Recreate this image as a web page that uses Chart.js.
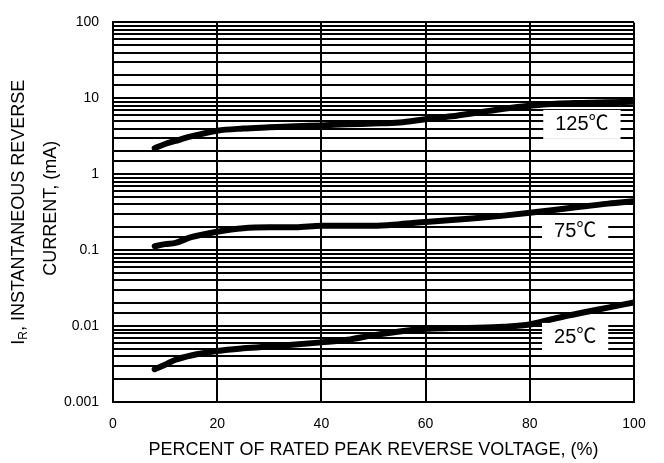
<!DOCTYPE html>
<html><head><meta charset="utf-8">
<script src="https://cdn.jsdelivr.net/npm/chart.js@4.4.1/dist/chart.umd.min.js"></script>
<style>html,body{margin:0;padding:0;background:#fff}canvas{display:block}</style>
</head><body>
<canvas id="c" width="664" height="463"></canvas>
<script>
// ---- data ----
const percent = [8, 10, 12, 15, 20, 25, 30, 35, 40, 45, 50, 55, 60, 65, 70, 75, 80, 85, 90, 95, 100];
const ir125 = [2.2, 2.5, 2.75, 3.15, 3.75, 4.0, 4.15, 4.3, 4.4, 4.55, 4.65, 4.8, 5.3, 5.8, 6.5, 7.3, 8.0, 8.5, 8.7, 8.85, 9.0];
const ir75  = [0.113, 0.12, 0.125, 0.148, 0.175, 0.195, 0.2, 0.2, 0.21, 0.21, 0.21, 0.22, 0.235, 0.25, 0.265, 0.285, 0.31, 0.34, 0.375, 0.41, 0.44];
const ir25  = [0.0027, 0.0031, 0.0036, 0.0041, 0.0047, 0.0051, 0.0054, 0.0057, 0.0061, 0.0066, 0.0076, 0.0085, 0.0092, 0.0094, 0.0095, 0.0098, 0.0105, 0.0127, 0.015, 0.0175, 0.0205];
const xTickValues = [0, 20, 40, 60, 80, 100];
const yTickLabels = ['0.001', '0.01', '0.1', '1', '10', '100'];
const seriesNames = ['125℃', '75℃', '25℃'];
const seriesLabelX = [90, 88.7, 88.7];
const seriesLabelY = [4.6, 0.184, 0.0072];
const xTitle = 'PERCENT OF RATED PEAK REVERSE VOLTAGE, (%)';
const yTitleLine1 = ['I', 'R', ', INSTANTANEOUS REVERSE'];
const yTitleLine2 = 'CURRENT, (mA)';

const FONT = '"Liberation Sans", Arial, sans-serif';
const LABEL_FONT = '"Liberation Sans", "Noto Sans CJK SC", sans-serif';

function toPts(ys) { return percent.map((x, i) => ({ x: x, y: ys[i] })); }
function lineDs(ys) {
  return { data: toPts(ys), borderColor: '#000', borderWidth: 6, pointRadius: 0,
           fill: false, cubicInterpolationMode: 'monotone', borderCapStyle: 'round', borderJoinStyle: 'round' };
}

const yTitlePlugin = {
  id: 'yTitle',
  afterDraw(chart) {
    const ctx = chart.ctx, a = chart.chartArea;
    const cy = (a.top + a.bottom) / 2;
    ctx.save();
    ctx.fillStyle = '#000';
    ctx.textBaseline = 'middle';
    const big = '18px ' + FONT, small = '12px ' + FONT;
    ctx.font = big; const w1 = ctx.measureText(yTitleLine1[0]).width;
    ctx.font = small; const w2 = ctx.measureText(yTitleLine1[1]).width;
    ctx.font = big; const w3 = ctx.measureText(yTitleLine1[2]).width;
    const total = w1 + w2 + w3;
    ctx.translate(19, cy);
    ctx.rotate(-Math.PI / 2);
    let x = -total / 2;
    ctx.textAlign = 'left';
    ctx.font = big; ctx.fillText(yTitleLine1[0], x, 0); x += w1;
    ctx.font = small; ctx.fillText(yTitleLine1[1], x, 5); x += w2;
    ctx.font = big; ctx.fillText(yTitleLine1[2], x, 0);
    ctx.restore();
    ctx.save();
    ctx.fillStyle = '#000';
    ctx.textBaseline = 'middle';
    ctx.textAlign = 'center';
    ctx.font = big;
    ctx.translate(51, cy - 4);
    ctx.rotate(-Math.PI / 2);
    ctx.fillText(yTitleLine2, 0, 0);
    ctx.restore();
  }
};

const seriesLabelPlugin = {
  id: 'seriesLabels',
  afterDatasetsDraw(chart) {
    const ctx = chart.ctx, xs = chart.scales.x, ys = chart.scales.y;
    ctx.save();
    ctx.font = '20px ' + LABEL_FONT;
    ctx.textAlign = 'center';
    ctx.textBaseline = 'middle';
    seriesNames.forEach((t, i) => {
      const px = xs.getPixelForValue(seriesLabelX[i]);
      const py = ys.getPixelForValue(seriesLabelY[i]);
      const w = ctx.measureText(t).width;
      ctx.fillStyle = '#fff';
      ctx.fillRect(px - w / 2 - 12, py - 14, w + 24, 29);
      ctx.fillStyle = '#000';
      ctx.fillText(t, px, py + 1);
    });
    ctx.restore();
  }
};

new Chart(document.getElementById('c'), {
  type: 'line',
  data: { datasets: [lineDs(ir125), lineDs(ir75), lineDs(ir25)] },
  options: {
    responsive: false, animation: false, devicePixelRatio: 1,
    layout: { padding: { left: 0, right: 30, top: 15, bottom: 0 } },
    plugins: { legend: { display: false }, tooltip: { enabled: false } },
    scales: {
      x: {
        type: 'linear', min: 0, max: 100,
        afterBuildTicks: s => { s.ticks = xTickValues.map(v => ({ value: v })); },
        afterFit: s => { s.height = 61; },
        grid: { color: '#000', lineWidth: 2, drawTicks: false },
        border: { color: '#000', width: 2 },
        ticks: { color: '#000', font: { family: FONT, size: 14 }, padding: 14, maxRotation: 0 },
        title: { display: true, text: xTitle, color: '#000', font: { family: FONT, size: 18 }, padding: { top: 0, bottom: 2 } }
      },
      y: {
        type: 'logarithmic', min: 0.001, max: 100,
        afterFit: s => { s.width = 113; },
        grid: { color: '#000', lineWidth: 2, drawTicks: false },
        border: { color: '#000', width: 2 },
        ticks: {
          autoSkip: false, color: '#000', font: { family: FONT, size: 14 }, padding: 14,
          callback: v => {
            const e = Math.log10(v);
            if (Math.abs(e - Math.round(e)) < 1e-6) return yTickLabels[Math.round(e) + 3];
            return '';
          }
        }
      }
    }
  },
  plugins: [seriesLabelPlugin, yTitlePlugin]
});
</script>
</body></html>
